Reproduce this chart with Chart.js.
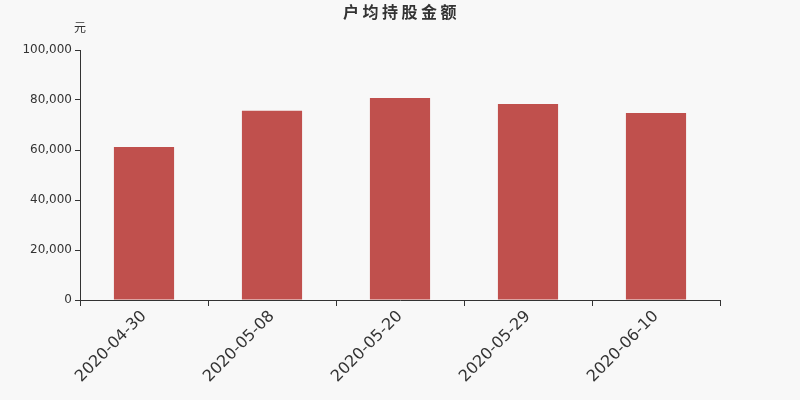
<!DOCTYPE html>
<html>
<head>
<meta charset="utf-8">
<script src="https://cdn.jsdelivr.net/npm/chart.js@4/dist/chart.umd.min.js"></script>
<style>
  html, body { margin: 0; padding: 0; background: #f8f8f8; }
  #wrap { width: 800px; height: 400px; }
</style>
</head>
<body>
<div id="wrap"><canvas id="barChart" width="800" height="400"></canvas></div>
<script>
// 데이터
const categories = ['2020-04-30', '2020-05-08', '2020-05-20', '2020-05-29', '2020-06-10'];
const amounts = [61200, 75700, 80800, 78400, 74800];
const yTicks = [0, 20000, 40000, 60000, 80000, 100000];

const FONT = '"DejaVu Sans", "Noto Sans CJK SC", sans-serif';

// 제목, 단위 그리기
const titlePlugin = {
  id: 'titlePlugin',
  afterDraw(chart) {
    const ctx = chart.ctx;
    ctx.save();
    ctx.fillStyle = '#333';
    ctx.textAlign = 'center';
    ctx.textBaseline = 'middle';
    ctx.font = 'bold 16px ' + FONT;
    ctx.letterSpacing = '3.5px';
    ctx.fillText('户均持股金额', 401.5, 14);
    ctx.letterSpacing = '0px';
    ctx.font = '12px ' + FONT;
    ctx.fillText('元', 80, 29);
    ctx.restore();
  }
};

new Chart(document.getElementById('barChart'), {
  type: 'bar',
  data: {
    labels: categories,
    datasets: [{
      label: '户均持股金额',
      data: amounts,
      backgroundColor: '#c0504d',
      barPercentage: 0.94,
      categoryPercentage: 0.5
    }]
  },
  options: {
    responsive: false,
    animation: false,
    layout: { padding: { top: 50, right: 80, left: 0, bottom: 0 } },
    plugins: {
      legend: { display: false },
      tooltip: { enabled: false }
    },
    scales: {
      x: {
        grid: { drawOnChartArea: false, drawTicks: true, tickLength: 6, color: '#333' },
        border: { display: true, color: '#333' },
        ticks: {
          color: '#333',
          font: { family: FONT, size: 16 },
          minRotation: 45,
          maxRotation: 45,
          padding: 1
        },
        afterFit(scale) { scale.height = 100; }
      },
      y: {
        min: 0,
        max: 100000,
        afterBuildTicks(scale) { scale.ticks = yTicks.map(v => ({ value: v })); },
        grid: { drawOnChartArea: false, drawTicks: true, tickLength: 5, color: '#333' },
        border: { display: true, color: '#333' },
        ticks: {
          color: '#333',
          font: { family: FONT, size: 12 },
          padding: 3,
          callback: v => v.toLocaleString('en-US')
        },
        afterFit(scale) { scale.width = 80; }
      }
    }
  },
  plugins: [titlePlugin]
});
</script>
</body>
</html>
